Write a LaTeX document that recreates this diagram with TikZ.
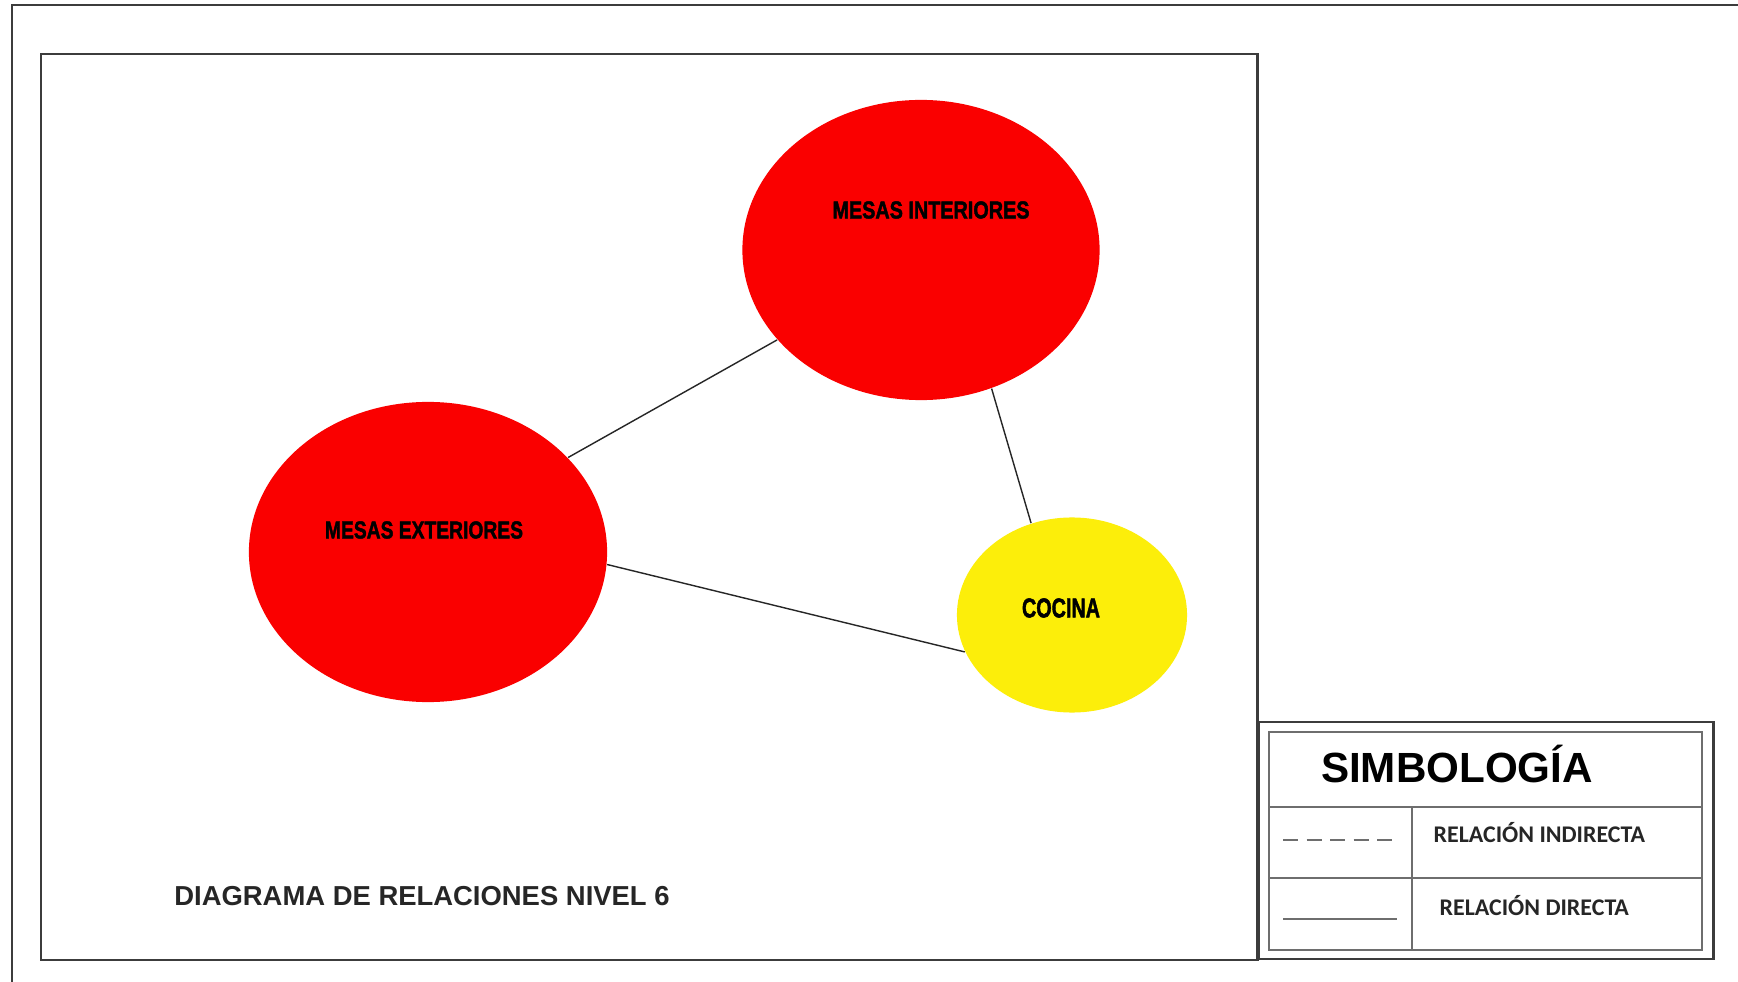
\documentclass[tikz,border=0pt]{standalone}
\usepackage{fontspec}
\setmainfont{Liberation Sans}
\newfontfamily\carl{Carlito}
\newfontfamily\heavyfont[FakeBold=2]{Liberation Sans Bold}
\usetikzlibrary{shapes.geometric}
\definecolor{frame}{RGB}{60,60,60}
\definecolor{lgrey}{RGB}{110,110,110}
\definecolor{bubred}{RGB}{250,0,0}
\definecolor{bubyel}{RGB}{252,238,10}
\tikzset{
  bubble/.style={ellipse, draw=none, inner sep=0pt},
  conn/.style={draw=black!85, line width=0.4pt},
  bublabel/.style={inner sep=0pt, text=black},
  legtxt/.style={inner sep=0pt, anchor=base west, font=\carl\bfseries\fontsize{6.8}{8}\selectfont, text=black!85},
}
\newcommand{\blab}[3]{\resizebox{#1}{#2}{\heavyfont #3}}
\begin{document}
\begin{tikzpicture}[x=0.01cm,y=-0.01cm]
\useasboundingbox (0,0) rectangle (1738,982);
\fill[white] (0,0) rectangle (1738,982);
% outer frame (top and left only)
\draw[frame, line width=0.85pt] (12,982) -- (12,5) -- (1738,5);
% inner frame
\draw[frame, line width=0.85pt] (41,54) rectangle (1257,960);
% bubbles
\node[bubble, fill=bubred, minimum width=3.57cm, minimum height=3.0cm] (int) at (921,250) {};
\node[bubble, fill=bubred, minimum width=3.58cm, minimum height=3.0cm] (ext) at (428,552) {};
\node[bubble, fill=bubyel, minimum width=2.30cm, minimum height=1.95cm] (coc) at (1072,615) {};
\node[bublabel] (intl) at (931,210) {\blab{1.97cm}{0.17cm}{MESAS INTERIORES}};
\node[bublabel] (extl) at (424,530) {\blab{1.98cm}{0.17cm}{MESAS EXTERIORES}};
\node[bublabel] (cocl) at (1061,608) {\blab{0.78cm}{0.19cm}{COCINA}};
% connectors
\draw[conn] (int.212) -- (ext.34);
\draw[conn] (int.297) -- (coc.114);
\draw[conn] (ext.-4) -- (coc.199.5);
% title
\node[inner sep=0pt, anchor=base, font=\bfseries\fontsize{7.8}{9}\selectfont, text=black!85] (title) at (422,905) {DIAGRAMA DE RELACIONES NIVEL 6};
% legend
\draw[frame, line width=0.85pt] (1258,722) rectangle (1713,959);
\draw[lgrey, line width=0.45pt] (1269,732) rectangle (1702,950);
\draw[lgrey, line width=0.45pt] (1269,807) -- (1702,807);
\draw[lgrey, line width=0.45pt] (1269,878) -- (1702,878);
\draw[lgrey, line width=0.45pt] (1412,807) -- (1412,950);
\node[inner sep=0pt, anchor=base, font=\bfseries\fontsize{12}{14}\selectfont] (simb) at (1457,782) {SIMBOLOGÍA};
\node[legtxt] (ind) at (1433,843) {RELACIÓN INDIRECTA};
\node[legtxt] (dir) at (1439,915) {RELACIÓN DIRECTA};
\coordinate (da) at (1283,840);
\coordinate (db) at (1397,840);
\coordinate (sa) at (1283,919);
\coordinate (sb) at (1397,919);
\draw[lgrey, line width=0.5pt, dash pattern=on 4.3pt off 2.4pt] (da) -- (db);
\draw[lgrey, line width=0.5pt] (sa) -- (sb);
\end{tikzpicture}
\end{document}
